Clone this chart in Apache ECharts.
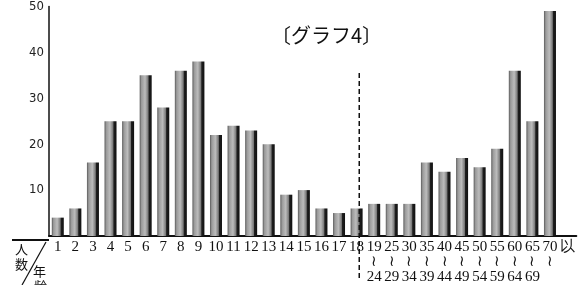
<!DOCTYPE html>
<html>
<head>
<meta charset="utf-8">
<script src="https://cdn.jsdelivr.net/npm/echarts@6/dist/echarts.min.js"></script>
<style>html,body{margin:0;padding:0;background:#fff;overflow:hidden}#c{width:578px;height:285px}</style>
</head>
<body>
<div id="c"></div>
<script>
// Age groups (start labels) and their end labels for grouped ranges
const ageStart = ['1','2','3','4','5','6','7','8','9','10','11','12','13','14','15','16','17','18',
                  '19','25','30','35','40','45','50','55','60','65','70','以'];
const ageEnd   = ['','','','','','','','','','','','','','','','','','',
                  '24','29','34','39','44','49','54','59','64','69','',''];
// number of people
const people = [4,6,16,25,25,35,28,36,38,22,24,23,20,9,10,6,5,6,
                7,7,7,16,14,17,15,19,36,25,49,null];
const yTicks = [0,10,20,30,40,50];
// separator between single ages and grouped ages (position on a 0..30 category scale), and its vertical span
const sepX = 17.65;
const sepSpan = [35.5, -9.5];

const chart = echarts.init(document.getElementById('c'));
const barGrad = new echarts.graphic.LinearGradient(0,0,1,0,[
  {offset:0, color:'#5a5a5a'},
  {offset:0.15, color:'#9a9a9a'},
  {offset:0.45, color:'#bcbcbc'},
  {offset:0.7, color:'#7a7a7a'},
  {offset:0.78, color:'#1e1e1e'},
  {offset:1, color:'#111'}
]);
chart.setOption({
  animation:false,
  backgroundColor:'#fff',
  title:{
    text:'〔グラフ4〕', left:266, top:20,
    textStyle:{fontFamily:'Noto Sans CJK JP', fontSize:20, fontWeight:'normal', color:'#111'}
  },
  grid:{left:49, top:1, width:530, bottom:45, containLabel:false},
  xAxis:[{
    type:'category',
    data:ageStart,
    axisLine:{lineStyle:{color:'#111', width:2}},
    axisTick:{show:false},
    axisLabel:{
      interval:0, margin:4, color:'#111',
      fontFamily:'Liberation Serif', fontSize:15, lineHeight:15,
      formatter:function(v, i){
        if (i >= 18 && i < 29) {
          return ageEnd[i] ? v + '\n≀\n' + ageEnd[i] : v + '\n≀';
        }
        return v;
      }
    }
  },{
    type:'value', min:0, max:30, show:false
  }],
  yAxis:{
    type:'value', min:yTicks[0], max:yTicks[yTicks.length-1], interval:10,
    axisLine:{show:true, lineStyle:{color:'#111', width:1.5}},
    axisTick:{show:false},
    splitLine:{show:false},
    axisLabel:{
      margin:5, color:'#222', fontFamily:'DejaVu Sans Condensed', fontSize:13,
      formatter:function(v){ return v === 0 ? '' : String(v); }
    }
  },
  series:[{
    type:'bar',
    data:people,
    barWidth:12,
    itemStyle:{color:barGrad}
  },{
    type:'line',
    xAxisIndex:1,
    data:[[sepX, sepSpan[0]],[sepX, sepSpan[1]]],
    symbol:'none',
    clip:false,
    silent:true,
    lineStyle:{color:'#111', width:1.5, type:[5,3]}
  }],
  graphic:[
    {type:'line', shape:{x1:12,y1:240,x2:49,y2:240}, style:{stroke:'#111', lineWidth:2}},
    {type:'line', shape:{x1:22,y1:285,x2:46,y2:242}, style:{stroke:'#111', lineWidth:1.2}},
    {type:'text', left:15, top:243, style:{text:'人', font:'13px "Noto Sans CJK JP"', fill:'#111'}},
    {type:'text', left:15, top:258, style:{text:'数', font:'13px "Noto Sans CJK JP"', fill:'#111'}},
    {type:'text', left:33, top:265, style:{text:'年', font:'13px "Noto Sans CJK JP"', fill:'#111'}},
    {type:'text', left:34, top:280, style:{text:'齢', font:'13px "Noto Sans CJK JP"', fill:'#111'}}
  ]
});
</script>
</body>
</html>
